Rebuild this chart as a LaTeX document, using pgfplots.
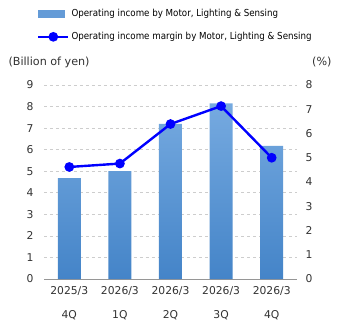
\documentclass[border=0pt]{standalone}
\usepackage{pgfplots}
\pgfplotsset{compat=1.18}
\usepackage{fontspec}
\setmainfont{DejaVu Sans}
\newfontfamily\condfont{DejaVu Sans Condensed}
\definecolor{barTop}{RGB}{118,170,224}
\definecolor{barBot}{RGB}{68,132,200}
\definecolor{barLeg}{RGB}{100,155,215}
\definecolor{gridc}{RGB}{205,205,205}
\definecolor{axc}{RGB}{150,150,150}
\definecolor{txt}{RGB}{50,50,50}
\definecolor{lineblue}{RGB}{0,0,255}
\pgfplotsset{
  mylineleg/.style={legend image code/.code={\draw[mark repeat=2,mark phase=2,##1] plot coordinates {(0bp,0bp)(15bp,0bp)(30bp,0bp)};}},
  mybarleg/.style={legend image code/.code={\fill[barLeg] (0bp,-3.5bp) rectangle (26bp,3.5bp);}},
}
\begin{document}
\begin{tikzpicture}[x=1bp,y=1bp]
\useasboundingbox (0,0) rectangle (345,330);
\begin{axis}[
  at={(44bp,51bp)}, anchor=south west,
  scale only axis, width=253bp, height=194bp,
  xmin=-0.5, xmax=4.5, ymin=0, ymax=9,
  axis x line*=bottom, axis y line*=left,
  y axis line style={draw=none},
  x axis line style={draw=axc, line width=0.8bp, -},
  ytick={0,1,...,9},
  xtick={0,1,2,3,4},
  xticklabels={{2025/3\\[12bp]4Q},{2026/3\\[12bp]1Q},{2026/3\\[12bp]2Q},{2026/3\\[12bp]3Q},{2026/3\\[12bp]4Q}},
  x tick style={draw=none},
  extra x ticks={-0.5,0.5,1.5,2.5,3.5,4.5},
  extra x tick labels={},
  extra x tick style={tick style={draw=axc, line width=0.8bp}, major tick length=6bp, tick align=outside, grid=none},
  y tick style={draw=none},
  ymajorgrids, grid style={draw=gridc, dashed, line width=0.6bp},
  yticklabel style={font=\fontsize{10.8}{12}\selectfont, text=txt, xshift=-7bp},
  xticklabel style={font=\fontsize{10.8}{12}\selectfont, text=txt, align=center, yshift=-4bp},
  /pgf/number format/assume math mode=true,
]
\addplot[ybar, bar width=23bp, bar shift=0pt, draw=none, top color=barTop, bottom color=barBot]
  coordinates {(0,4.68) (1,5.0) (2,7.2) (3,8.15) (4,6.18)};
\end{axis}
\begin{axis}[
  at={(44bp,51bp)}, anchor=south west,
  scale only axis, width=253bp, height=194bp,
  xmin=-0.5, xmax=4.5, ymin=0, ymax=8,
  axis x line=none, axis y line*=right,
  y axis line style={draw=none},
  ytick={0,1,...,8}, y tick style={draw=none},
  yticklabel style={font=\fontsize{10.8}{12}\selectfont, text=txt, xshift=5bp},
  /pgf/number format/assume math mode=true,
  legend style={at={(axis description cs:-0.028,1.40)}, anchor=north west, draw=none, fill=none,
    font=\condfont\fontsize{9.7}{11}\selectfont, text=black, row sep=10bp, inner sep=0pt, cells={anchor=west}},
]
\addlegendimage{mybarleg}
\addlegendentry{Operating income by Motor, Lighting \& Sensing}
\addplot[color=lineblue, line width=2.4bp, mark=*, mark size=3.6bp, mylineleg]
  coordinates {(0,4.62) (1,4.76) (2,6.39) (3,7.13) (4,5.0)};
\addlegendentry{Operating income margin by Motor, Lighting \& Sensing}
\end{axis}
\node[anchor=west, font=\fontsize{11.2}{13}\selectfont, text=txt] at (5,268) {(Billion of yen)};
\node[anchor=east, font=\fontsize{11.2}{13}\selectfont, text=txt] at (335,268) {(\%)};
\end{tikzpicture}
\end{document}
